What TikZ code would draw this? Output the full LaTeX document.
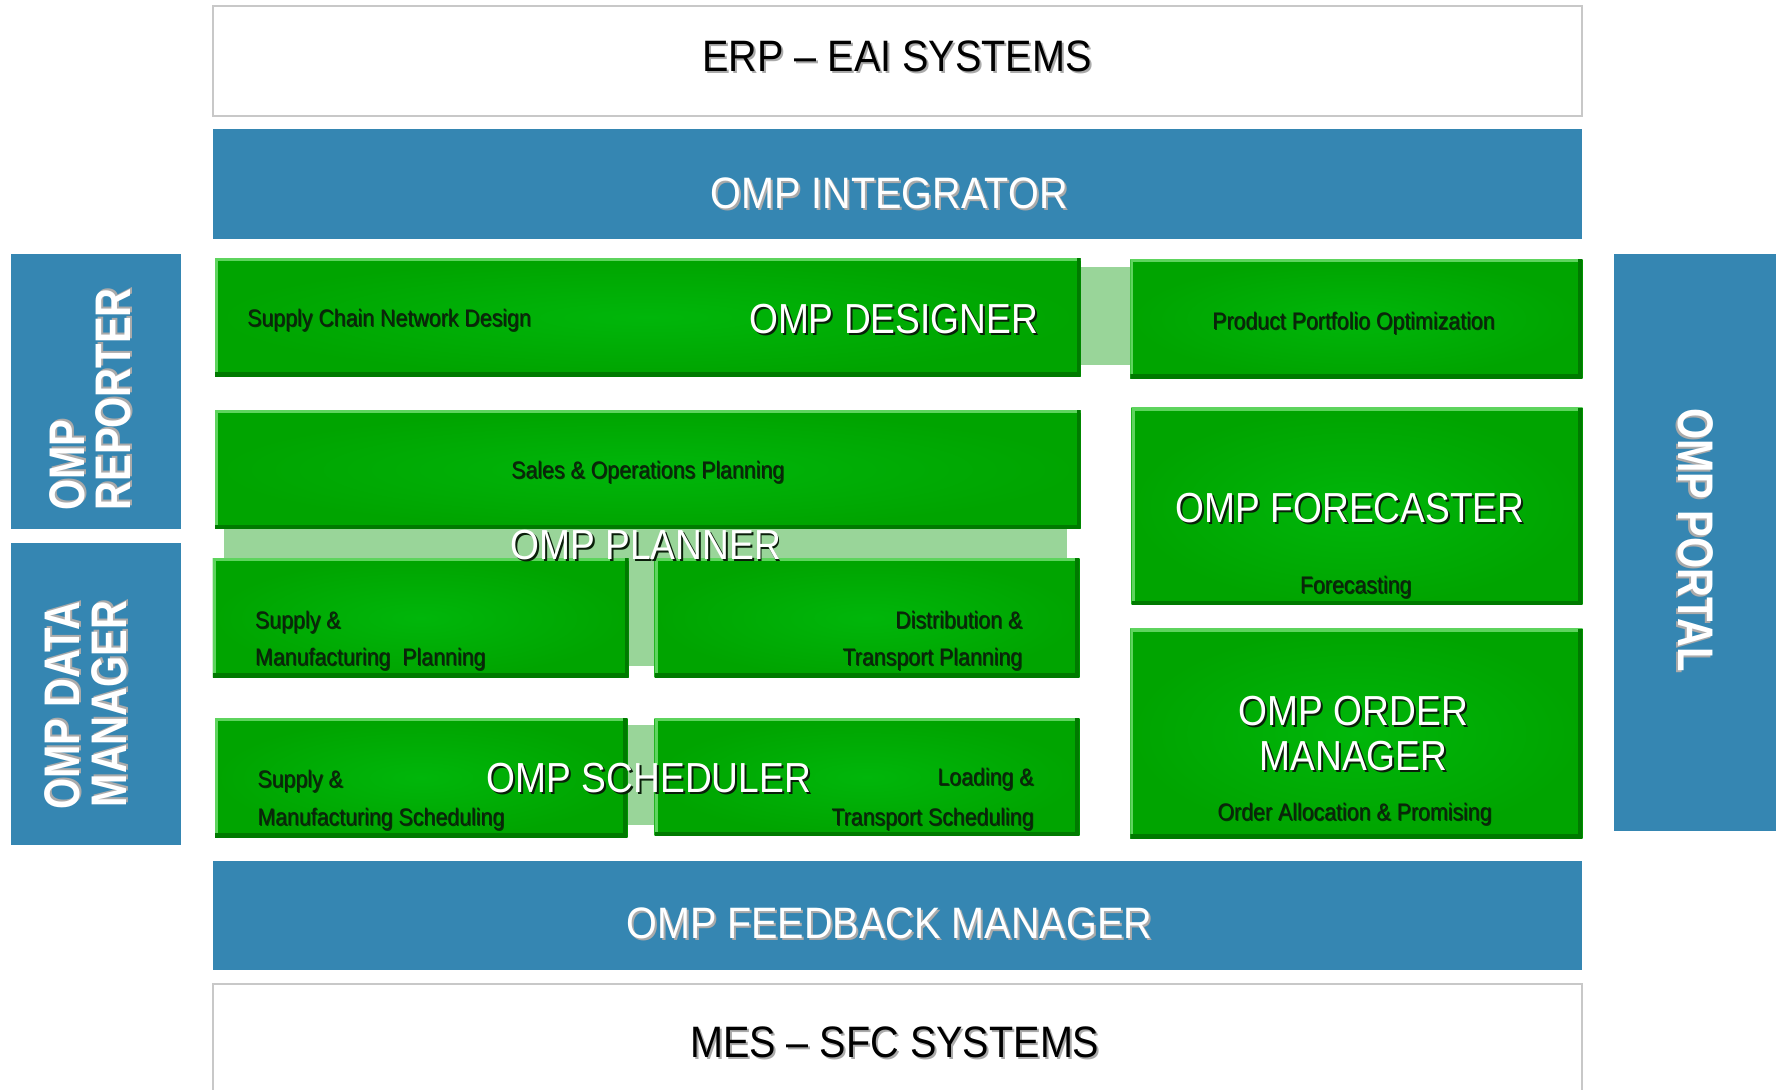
\documentclass[tikz,border=0pt]{standalone}
\usepackage{fontspec}
\setmainfont{Liberation Sans}
\newfontfamily\headfont{Liberation Sans}[FakeStretch=0.9]
\newfontfamily\boxfont{Liberation Sans}[FakeStretch=0.885]
\newfontfamily\sidefont{Liberation Sans}[FakeStretch=0.8]
\newfontfamily\smallfont{Liberation Sans}[FakeStretch=0.89]
\usetikzlibrary{fit,calc}

\definecolor{ompblue}{RGB}{53,134,178}
\definecolor{framegray}{RGB}{200,200,200}
\definecolor{grmain}{RGB}{0,164,0}
\definecolor{grinner}{RGB}{0,182,10}
\definecolor{grlight}{RGB}{94,212,94}
\definecolor{grdark}{RGB}{0,122,0}
\definecolor{bridgegreen}{RGB}{153,213,153}
\definecolor{smallink}{RGB}{12,34,12}
\definecolor{blueshadow}{RGB}{170,170,170}
\definecolor{greenshadow}{RGB}{10,30,10}
\definecolor{smallshadow}{RGB}{0,60,0}

% text with a small drop shadow
\newcommand{\shd}[3][1pt]{\makebox[0pt][l]{\kern#1\raisebox{-#1}{\textcolor{#2}{#3}}}#3}

\tikzset{
  sysbox/.style={draw=framegray, line width=1pt, fill=white, inner sep=0pt},
  bluebar/.style={fill=ompblue, inner sep=0pt},
  greenbox/.style={inner sep=0pt, inner color=grinner, outer color=grmain,
    path picture={
      \draw[grlight, line width=3pt] (path picture bounding box.south west)
        -- (path picture bounding box.north west) -- (path picture bounding box.north east);
      \draw[grdark, line width=4pt] (path picture bounding box.north east)
        -- (path picture bounding box.south east) -- (path picture bounding box.south west);
    }},
  bridge/.style={fill=bridgegreen},
  headtxt/.style={font=\headfont\fontsize{22}{26}\selectfont, inner sep=0pt,
    text height=15.7pt, text depth=0pt},
  boxtxt/.style={font=\boxfont\fontsize{21}{25}\selectfont, text=white, inner sep=0pt,
    text height=15pt, text depth=0pt},
  smalltxt/.style={font=\smallfont\fontsize{12}{14}\selectfont, text=smallink,
    inner sep=0pt, text height=8.6pt, text depth=0pt},
  sidetxt/.style={font=\sidefont\bfseries\fontsize{25}{30}\selectfont, text=white,
    inner sep=0pt, anchor=base west},
}
\newcommand{\sm}[1]{\shd[0.5pt]{smallshadow}{#1}}

\begin{document}
\begin{tikzpicture}[x=0.5664pt, y=-0.5664pt]
\useasboundingbox (0,0) rectangle (1568,962);

% systems and bars
\node[sysbox, fit={(188,5) (1397,102)}] (erp) {};
\node[bluebar, fit={(188,114) (1397,211)}] (integrator) {};
\node[bluebar, fit={(10,224) (160,467)}] (reporter) {};
\node[bluebar, fit={(10,479) (160,746)}] (datamgr) {};
\node[bluebar, fit={(1425,224) (1568,734)}] (portal) {};
\node[bluebar, fit={(188,760) (1397,856)}] (feedback) {};
\node[sysbox, fit={(188,869) (1397,985)}] (mes) {};

% modules
\node[greenbox, fit={(190,228) (954,332)}] (designer) {};
\node[greenbox, fit={(998,229) (1397,334)}] (ppo) {};
\node[greenbox, fit={(190,362) (954,467)}] (sop) {};
\node[greenbox, fit={(188,493) (555,598)}] (smp) {};
\node[greenbox, fit={(578,493) (953,598)}] (dtp) {};
\node[greenbox, fit={(190,634) (554,739)}] (sms) {};
\node[greenbox, fit={(578,634) (953,738)}] (lts) {};
\node[greenbox, fit={(999,360) (1397,534)}] (forecaster) {};
\node[greenbox, fit={(998,555) (1397,740)}] (ordermgr) {};

% bridges
\fill[bridge] ($(designer.north east)+(0,8)$) rectangle ($(ppo.south west)+(0,-12)$);
\fill[bridge] ($(sop.south west)+(8,0)$) rectangle ($(dtp.north east)+(-11,0)$);
\fill[bridge] (smp.north east) rectangle ($(dtp.south west)+(0,-10)$);
\fill[bridge] ($(sms.north east)+(0,6)$) rectangle ($(lts.south west)+(0,-10)$);

% bar texts
\node[headtxt] (erptxt) at (792,49) {\shd{blueshadow}{ERP – EAI SYSTEMS}};
\node[headtxt, text=white] (integratortxt) at (785,170) {\shd{blueshadow}{OMP INTEGRATOR}};
\node[headtxt, text=white] (feedbacktxt) at (785,815) {\shd{blueshadow}{OMP FEEDBACK MANAGER}};
\node[headtxt] (mestxt) at (790,920) {\shd{blueshadow}{MES – SFC SYSTEMS}};

\node[sidetxt, rotate=90] (reptxta) at (75,451) {\shd{blueshadow}{OMP}};
\node[sidetxt, rotate=90] (reptxtb) at (115,451) {\shd{blueshadow}{REPORTER}};
\node[sidetxt, rotate=90] (dmtxta) at (70,715) {\shd{blueshadow}{OMP DATA}};
\node[sidetxt, rotate=90] (dmtxtb) at (112,713) {\shd{blueshadow}{MANAGER}};
\node[sidetxt, rotate=-90] (portaltxt) at (1482,360) {\shd{blueshadow}{OMP PORTAL}};

% module texts
\node[boxtxt] (designertxt) at (789,281) {\shd{greenshadow}{OMP DESIGNER}};
\node[smalltxt, anchor=west] (scnd) at (218,281) {\sm{Supply Chain Network Design}};
\node[smalltxt] (ppotxt) at (1195,283) {\sm{Product Portfolio Optimization}};
\node[smalltxt] (soptxt) at (572,415) {\sm{Sales \& Operations Planning}};
\node[boxtxt] (plannertxt) at (570,481) {\shd{greenshadow}{OMP PLANNER}};
\node[smalltxt, anchor=west] (smpa) at (225,547) {\sm{Supply \&}};
\node[smalltxt, anchor=west] (smpb) at (225,580) {\sm{Manufacturing\ \ Planning}};
\node[smalltxt, anchor=east] (dtpa) at (903,547) {\sm{Distribution \&}};
\node[smalltxt, anchor=east] (dtpb) at (903,580) {\sm{Transport Planning}};
\node[boxtxt] (schedulertxt) at (573,686) {\shd{greenshadow}{OMP SCHEDULER}};
\node[smalltxt, anchor=west] (smsa) at (227,688) {\sm{Supply \&}};
\node[smalltxt, anchor=west] (smsb) at (227,721) {\sm{Manufacturing Scheduling}};
\node[smalltxt, anchor=east] (ltsa) at (913,686) {\sm{Loading \&}};
\node[smalltxt, anchor=east] (ltsb) at (913,721) {\sm{Transport Scheduling}};
\node[boxtxt] (forecastertxt) at (1192,448) {\shd{greenshadow}{OMP FORECASTER}};
\node[smalltxt] (fctxt) at (1197,516) {\sm{Forecasting}};
\node[boxtxt] (ordertxta) at (1195,627) {\shd{greenshadow}{OMP ORDER}};
\node[boxtxt] (ordertxtb) at (1195,667) {\shd{greenshadow}{MANAGER}};
\node[smalltxt] (oaptxt) at (1196,717) {\sm{Order Allocation \& Promising}};

\end{tikzpicture}
\end{document}
